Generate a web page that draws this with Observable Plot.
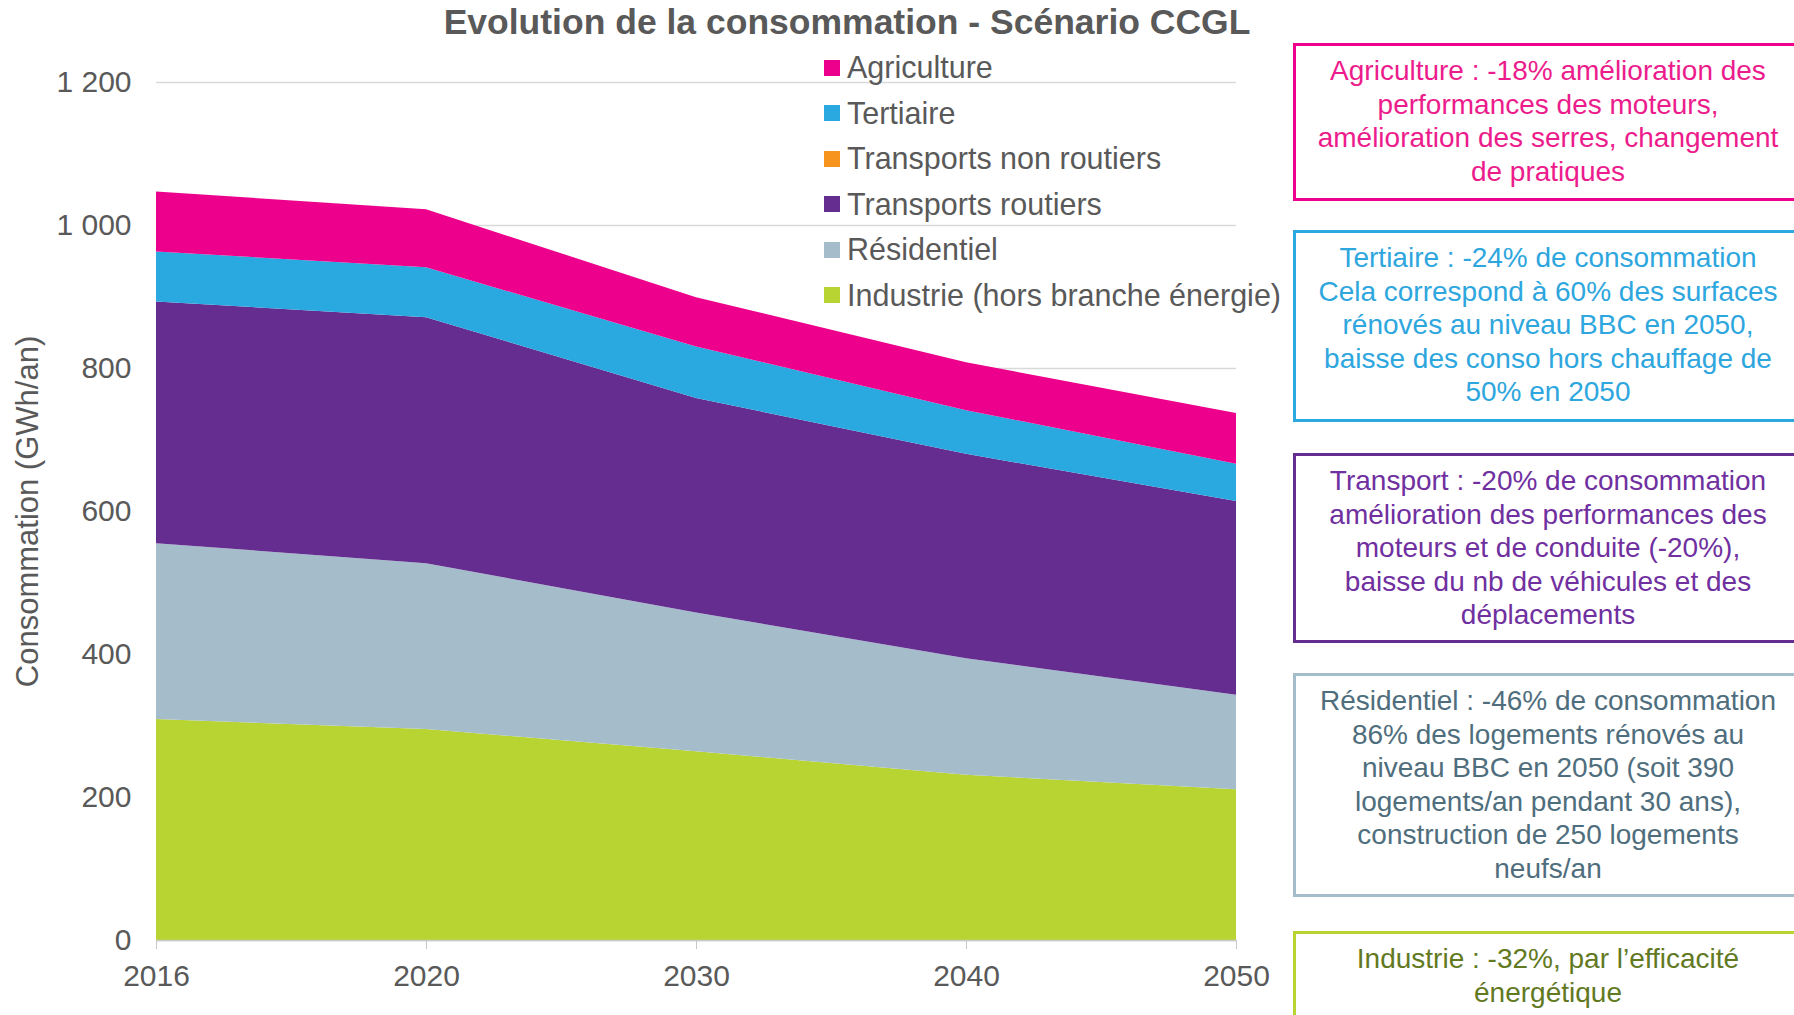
<!DOCTYPE html>
<html>
<head>
<meta charset="utf-8">
<script src="https://cdn.jsdelivr.net/npm/d3@7"></script>
<script src="https://cdn.jsdelivr.net/npm/@observablehq/plot@0.6"></script>
<style>
  html, body { margin: 0; padding: 0; background: #fff; width: 1794px; height: 1015px; overflow: hidden; }
  body { position: relative; font-family: "Liberation Sans", Arial, sans-serif; }
  #chart { position: absolute; left: 0; top: 0; }
  #chart svg text { font-size: 30px; fill: #595959; font-family: "Liberation Sans", Arial, sans-serif; }
  #chart svg g[aria-label="y-axis label"] text { font-size: 31px; }
  .title { position: absolute; left: 847px; top: 2px; transform: translateX(-50%); white-space: nowrap;
           font-size: 35.5px; font-weight: bold; color: #595959; }
  .legend { position: absolute; left: 824px; top: 45px; }
  .legend .row { height: 45.5px; display: flex; align-items: center; font-size: 30.5px; color: #595959; white-space: nowrap; }
  .legend .sw { width: 16px; height: 16px; margin-right: 7px; flex: none; }
  .note { position: absolute; left: 1293px; width: 510px; box-sizing: border-box; border: 3px solid; background: #fff;
          text-align: center; font-size: 28px; line-height: 33.5px; padding-top: 8px; white-space: nowrap; }
</style>
</head>
<body>
<div id="chart"></div>
<div class="title" id="title"></div>
<div class="legend" id="legend"></div>
<div id="notes"></div>
<script>
const years = ["2016", "2020", "2030", "2040", "2050"];
const sectors = ["Industrie (hors branche énergie)", "Résidentiel", "Transports routiers", "Transports non routiers", "Tertiaire", "Agriculture"];
const industrie = [309, 295, 264, 231, 211];
const residentiel = [246, 232, 194, 163, 132];
const transportsRoutiers = [338, 344, 300, 286, 271];
const transportsNonRoutiers = [0, 0, 0, 0, 0];
const tertiaire = [70, 70, 72, 61, 52];
const agriculture = [84, 81, 69, 67, 71];
const sectorColors = ["#B8D433", "#A5BDCB", "#662D91", "#F7941D", "#29A9E0", "#EC008C"];
const yTicks = [0, 200, 400, 600, 800, 1000, 1200];
const titleText = "Evolution de la consommation - Scénario CCGL";
const yLabel = "Consommation (GWh/an)";
const legendOrder = ["Agriculture", "Tertiaire", "Transports non routiers", "Transports routiers", "Résidentiel", "Industrie (hors branche énergie)"];
const notes = [
  {lines: ["Agriculture : -18% amélioration des", "performances des moteurs,", "amélioration des serres, changement", "de pratiques"], color: "#EC1C8C", border: "#EC008C", top: 43, height: 158},
  {lines: ["Tertiaire : -24% de consommation", "Cela correspond à 60% des surfaces", "rénovés au niveau BBC en 2050,", "baisse des conso hors chauffage de", "50% en 2050"], color: "#2EA6DE", border: "#29A9E0", top: 230, height: 192},
  {lines: ["Transport : -20% de consommation", "amélioration des performances des", "moteurs et de conduite (-20%),", "baisse du nb de véhicules et des", "déplacements"], color: "#70309F", border: "#662D91", top: 453, height: 190},
  {lines: ["Résidentiel : -46% de consommation", "86% des logements rénovés au", "niveau BBC en 2050 (soit 390", "logements/an pendant 30 ans),", "construction de 250 logements", "neufs/an"], color: "#4F6E7D", border: "#A5BDCB", top: 673, height: 224},
  {lines: ["Industrie : -32%, par l’efficacité", "énergétique"], color: "#62791F", border: "#B8D433", top: 931, height: 120}
];

const series = [industrie, residentiel, transportsRoutiers, transportsNonRoutiers, tertiaire, agriculture];
const rows = [];
sectors.forEach((s, i) => years.forEach((y, j) => rows.push({year: y, sector: s, value: series[i][j]})));

const fmt = d => d3.format(",")(d).replace(",", " ");

const plot = Plot.plot({
  width: 1290,
  height: 1015,
  marginLeft: 156,
  marginRight: 54,
  marginTop: 82,
  marginBottom: 75,
  style: {background: "transparent", fontFamily: "Liberation Sans, Arial, sans-serif"},
  x: {type: "point", domain: years, padding: 0},
  y: {domain: [0, 1200]},
  color: {domain: sectors, range: sectorColors},
  marks: [
    Plot.gridY(yTicks, {stroke: "#D9D9D9", strokeOpacity: 1, strokeWidth: 1.5}),
    Plot.areaY(rows, {x: "year", y: "value", fill: "sector", order: sectors}),
    Plot.ruleY([0], {stroke: "#C8C8C8", strokeWidth: 1.5}),
    Plot.axisY({ticks: yTicks, tickSize: 0, tickPadding: 25, tickFormat: fmt, label: yLabel, labelAnchor: "center", labelArrow: "none", labelOffset: 141}),
    Plot.axisX({tickSize: 9, tickPadding: 15, stroke: "#C8C8C8", label: null})
  ]
});
document.getElementById("chart").appendChild(plot);

document.getElementById("title").textContent = titleText;

const leg = document.getElementById("legend");
legendOrder.forEach(name => {
  const row = document.createElement("div");
  row.className = "row";
  const sw = document.createElement("span");
  sw.className = "sw";
  sw.style.background = sectorColors[sectors.indexOf(name)];
  const t = document.createElement("span");
  t.textContent = name;
  row.appendChild(sw); row.appendChild(t);
  leg.appendChild(row);
});

const notesEl = document.getElementById("notes");
notes.forEach(n => {
  const d = document.createElement("div");
  d.className = "note";
  d.style.top = n.top + "px";
  d.style.height = n.height + "px";
  d.style.color = n.color;
  d.style.borderColor = n.border;
  d.innerHTML = n.lines.map(l => l.replace(/&/g, "&amp;").replace(/</g, "&lt;")).join("<br>");
  notesEl.appendChild(d);
});
</script>
</body>
</html>
